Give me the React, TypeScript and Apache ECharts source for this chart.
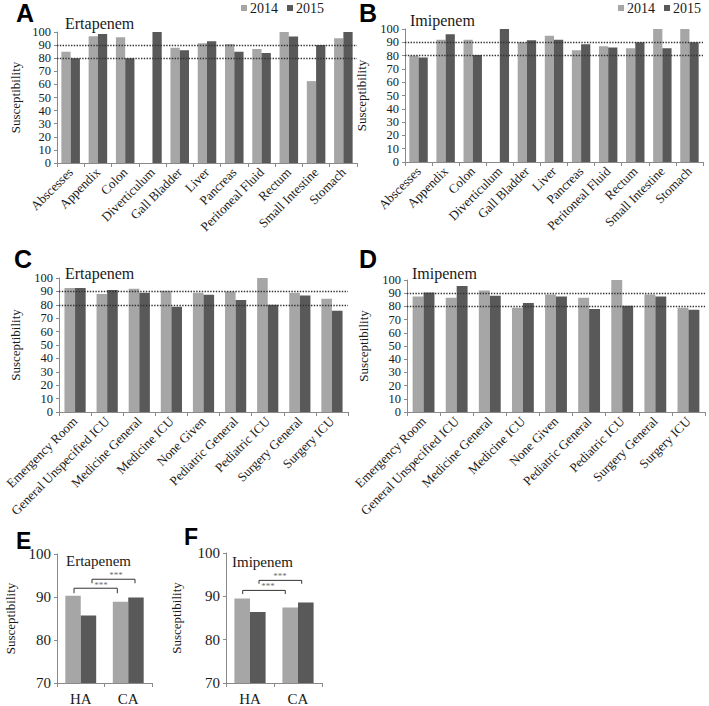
import React, { useEffect, useRef } from "react";
import * as echarts from "echarts";

// ---------- data ----------
const sites = ["Abscesses", "Appendix", "Colon", "Diverticulum", "Gall Bladder", "Liver", "Pancreas", "Peritoneal Fluid", "Rectum", "Small Intestine", "Stomach"];
const ertaSite2014 = [85, 96.7, 96, 0, 88, 91.5, 90.8, 87, 100, 62.5, 95.3];
const ertaSite2015 = [80, 98.5, 80, 100, 86, 93, 85, 84, 96.5, 90, 100];
const imiSite2014 = [80, 92, 92, 0, 90, 95, 84, 87, 85.5, 100, 100];
const imiSite2015 = [78.5, 96, 80.5, 100, 91.5, 92, 88.5, 86, 90, 85.5, 90];

const units = ["Emergency Room", "General Unspecified ICU", "Medicine General", "Medicine ICU", "None Given", "Pediatric General", "Pediatric ICU", "Surgery General", "Surgery ICU"];
const ertaUnit2014 = [92.5, 88, 92, 90.5, 89, 90, 100, 89, 84.5];
const ertaUnit2015 = [92.5, 91, 89, 78.5, 87.5, 83.5, 80, 87, 75.5];
const imiUnit2014 = [87.5, 86.5, 92, 79, 89, 86.5, 100, 89, 79];
const imiUnit2015 = [90.5, 95.5, 88, 82.5, 87.5, 78, 80.5, 87.5, 77.5];

const origins = ["HA", "CA"];
const ertaOrig2014 = [90.3, 88.9];
const ertaOrig2015 = [85.7, 89.9];
const imiOrig2014 = [89.5, 87.4];
const imiOrig2015 = [86.4, 88.6];

const years = ["2014", "2015"];
const thresholds = [90, 80];
const sigLabel = "***";
// brackets: [x1, x2, yTop, yTick] in (category-span) units
const ertaBrackets = [[0.358, 1.27, 92.04, 90.88], [0.737, 1.642, 94.13, 93.2]];
const imiBrackets = [[0.348, 1.235, 91.37, 90.54], [0.6875, 1.577, 93.68, 92.9]];
const ertaSigPos = [[0.926, 92.9], [1.24, 95.2]];
const imiSigPos = [[0.875, 92.3], [1.125, 94.6]];

// ---------- style ----------
const C14 = "#a6a6a6";
const C15 = "#595959";
const AX = "#8a8a8a";
const TXT = "#1a1a1a";
const SERIF = "Liberation Serif";

const grids = [
  { left: 57, top: 32, width: 300, height: 131 },
  { left: 405, top: 29, width: 298, height: 133 },
  { left: 59, top: 278, width: 289, height: 134 },
  { left: 407, top: 280, width: 298, height: 132 },
  { left: 57, top: 554, width: 95, height: 129 },
  { left: 226, top: 553, width: 96, height: 130 },
];

function catAxis(gridIndex: number, data: string[], big: boolean) {
  return {
    type: "category",
    gridIndex,
    data,
    axisLine: { lineStyle: { color: AX, width: 1 } },
    axisTick: { show: true, length: 4, lineStyle: { color: AX } },
    axisLabel: big
      ? { fontSize: 15, color: TXT, fontFamily: SERIF, margin: 8, interval: 0 }
      : { fontSize: 13, color: TXT, fontFamily: SERIF, rotate: 45, margin: 7, interval: 0 },
  };
}

function valAxis(gridIndex: number, min: number, nameGap: number, fs: number) {
  return {
    type: "value",
    gridIndex,
    min,
    max: 100,
    interval: 10,
    name: "Susceptibility",
    nameLocation: "middle",
    nameGap,
    nameTextStyle: { fontSize: 13, color: TXT, fontFamily: SERIF },
    splitLine: { show: false },
    axisLine: { show: true, lineStyle: { color: AX, width: 1 } },
    axisTick: { show: true, length: 3, lineStyle: { color: AX } },
    axisLabel: {
      fontSize: fs,
      lineHeight: fs < 14 ? 12 : 15,
      color: TXT,
      fontFamily: SERIF,
      margin: 6,
      showMinLabel: true,
      showMaxLabel: true,
    },
  };
}

function bars(idx: number, d14: number[], d15: number[], gap: string, refLines: boolean) {
  const base = { type: "bar", xAxisIndex: idx, yAxisIndex: idx, barGap: "0%", barCategoryGap: gap };
  const s15: any = { ...base, name: years[1], data: d15, itemStyle: { color: C15 } };
  if (refLines) {
    s15.markLine = {
      silent: true,
      symbol: "none",
      label: { show: false },
      lineStyle: { type: "dotted", color: "#333", width: 1.4 },
      data: thresholds.map((t) => ({ yAxis: t })),
    };
  }
  return [{ ...base, name: years[0], data: d14, itemStyle: { color: C14 } }, s15];
}

function brackets(xIdx: number, yIdx: number, br: number[][], sig: number[][]) {
  const out: any[] = br.map((b) => ({
    type: "line",
    xAxisIndex: xIdx,
    yAxisIndex: yIdx,
    symbol: "none",
    silent: true,
    lineStyle: { color: "#333", width: 1 },
    data: [[b[0], b[3]], [b[0], b[2]], [b[1], b[2]], [b[1], b[3]]],
  }));
  out.push({
    type: "scatter",
    xAxisIndex: xIdx,
    yAxisIndex: yIdx,
    symbolSize: 0,
    silent: true,
    data: sig,
    label: { show: true, position: "inside", formatter: sigLabel, fontSize: 9, color: "#444", fontFamily: SERIF },
  });
  return out;
}

function panelTitle(text: string, left: number, top: number, fs: number) {
  return { text, left, top, padding: 0, textStyle: { fontFamily: "Liberation Sans", fontWeight: "bold", fontSize: fs, color: "#000" } };
}
function drugTitle(text: string, left: number, top: number, fs: number) {
  return { text, left, top, padding: 0, textStyle: { fontFamily: SERIF, fontWeight: "normal", fontSize: fs, color: TXT } };
}

const legendBase = {
  data: years,
  icon: "rect",
  itemWidth: 6,
  itemHeight: 6,
  itemGap: 9,
  padding: 0,
  textStyle: { fontSize: 14, fontFamily: SERIF, color: TXT, padding: [0, 0, 0, -2] },
};

const option: any = {
  animation: false,
  textStyle: { fontFamily: SERIF },
  title: [
    panelTitle("A", 16, 0, 25),
    panelTitle("B", 359, 0, 25),
    panelTitle("C", 14, 246, 25),
    panelTitle("D", 359, 246, 25),
    panelTitle("E", 16, 529, 23),
    panelTitle("F", 184, 525, 23),
    drugTitle("Ertapenem", 65, 15, 16),
    drugTitle("Imipenem", 410, 12, 16),
    drugTitle("Ertapenem", 65, 265, 16),
    drugTitle("Imipenem", 412, 265, 16),
    drugTitle("Ertapenem", 66, 553, 15),
    drugTitle("Imipenem", 232, 554, 15),
  ],
  legend: [
    { ...legendBase, left: 241, top: 1 },
    { ...legendBase, left: 618, top: 1 },
  ],
  grid: grids,
  xAxis: [
    catAxis(0, sites, false),
    catAxis(1, sites, false),
    catAxis(2, units, false),
    catAxis(3, units, false),
    catAxis(4, origins, true),
    catAxis(5, origins, true),
    { type: "value", gridIndex: 4, min: 0, max: 2, show: false },
    { type: "value", gridIndex: 5, min: 0, max: 2, show: false },
  ],
  yAxis: [
    valAxis(0, 0, 35, 12.5),
    valAxis(1, 0, 37, 12.5),
    valAxis(2, 0, 37, 12.5),
    valAxis(3, 0, 37, 12.5),
    valAxis(4, 70, 40, 15),
    valAxis(5, 70, 43, 15),
  ],
  series: [
    ...bars(0, ertaSite2014, ertaSite2015, "32%", true),
    ...bars(1, imiSite2014, imiSite2015, "32%", true),
    ...bars(2, ertaUnit2014, ertaUnit2015, "34%", true),
    ...bars(3, imiUnit2014, imiUnit2015, "34%", true),
    ...bars(4, ertaOrig2014, ertaOrig2015, "35%", false),
    ...bars(5, imiOrig2014, imiOrig2015, "35%", false),
    ...brackets(6, 4, ertaBrackets, ertaSigPos),
    ...brackets(7, 5, imiBrackets, imiSigPos),
  ],
};

export default function App() {
  const ref = useRef<HTMLDivElement>(null);
  useEffect(() => {
    const chart = echarts.init(ref.current as HTMLDivElement, null, { renderer: "svg" });
    chart.setOption(option);
    return () => chart.dispose();
  }, []);
  return <div ref={ref} style={{ position: "absolute", left: 0, top: 0, width: 709, height: 706 }} />;
}
